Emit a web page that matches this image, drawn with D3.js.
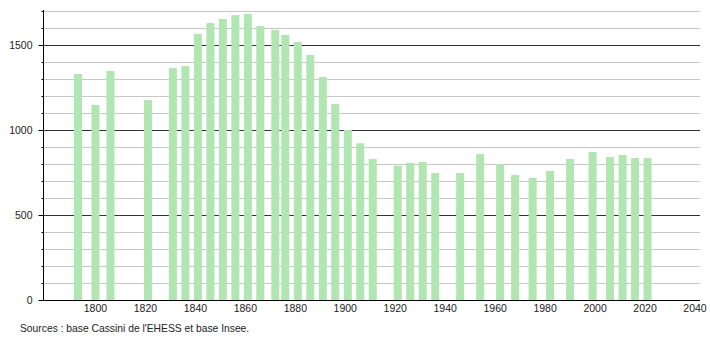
<!DOCTYPE html>
<html><head><meta charset="utf-8">
<script src="https://cdn.jsdelivr.net/npm/d3@7"></script>
<style>body{margin:0;background:#fff}svg{display:block}text{font-family:"Liberation Sans",Arial,sans-serif}</style>
</head><body>
<svg id="c" width="710" height="340"></svg>
<script>
const years = [1793,1800,1806,1821,1831,1836,1841,1846,1851,1856,1861,1866,1872,1876,1881,1886,1891,1896,1901,1906,1911,1921,1926,1931,1936,1946,1954,1962,1968,1975,1982,1990,1999,2006,2011,2016,2021];
const population = [1329,1147,1347,1176,1365,1376,1565,1629,1653,1676,1682,1612,1588,1559,1518,1441,1312,1153,1000,922,829,790,806,812,747,747,859,800,735,718,759,829,871,841,853,835,835];
const xTicks = [1800,1820,1840,1860,1880,1900,1920,1940,1960,1980,2000,2020,2040];
const yTicks = [0,500,1000,1500];
const source = "Sources : base Cassini de l'EHESS et base Insee.";

const svg = d3.select("#c");
const x = d3.scaleLinear().domain([1779.2, 2042]).range([43.5, 700]);
const y = d3.scaleLinear().domain([0, 1700]).range([300, 11]);

// grid lines
const minor = d3.range(100, 1701, 100);
svg.append("g").selectAll("line").data(minor).join("line")
  .attr("x1", 44).attr("x2", 700)
  .attr("y1", d => Math.round(y(d)) + 0.5).attr("y2", d => Math.round(y(d)) + 0.5)
  .attr("stroke", d => d % 500 === 0 ? "#333" : "#c8c8c8").attr("stroke-width", 1);

// bars
svg.append("g").selectAll("rect").data(years).join("rect")
  .attr("x", (d) => x(d) - 4)
  .attr("width", 8)
  .attr("y", (d, i) => y(population[i]))
  .attr("height", (d, i) => 300 - y(population[i]))
  .attr("fill", "#b1e5b1");

// y axis
const ya = svg.append("g").attr("transform", "translate(43.5,0)");
ya.append("line").attr("y1", 10).attr("y2", 300).attr("stroke", "#000");
ya.selectAll(".mt").data(minor).join("line")
  .attr("x1", d => d % 500 === 0 ? -5 : -2).attr("x2", 0)
  .attr("y1", d => Math.round(y(d)) + 0.5).attr("y2", d => Math.round(y(d)) + 0.5)
  .attr("stroke", "#000");
ya.append("line").attr("x1", -5).attr("x2", 0).attr("y1", 300.5).attr("y2", 300.5).attr("stroke", "#000");
ya.selectAll("text").data(yTicks).join("text")
  .attr("x", -11).attr("y", d => y(d) + 4)
  .attr("text-anchor", "end").attr("font-size", 10.5).attr("fill", "#222")
  .text(d => d);

// x axis
svg.append("line").attr("x1", 43).attr("x2", 700).attr("y1", 300.5).attr("y2", 300.5).attr("stroke", "#000");
svg.append("g").selectAll("text").data(xTicks).join("text")
  .attr("x", d => x(d)).attr("y", 312)
  .attr("text-anchor", "middle").attr("font-size", 10.5).attr("fill", "#222")
  .text(d => d);

svg.append("text").attr("x", 20).attr("y", 332).attr("font-size", 10.3).attr("fill", "#222").text(source);
</script>
</body></html>
